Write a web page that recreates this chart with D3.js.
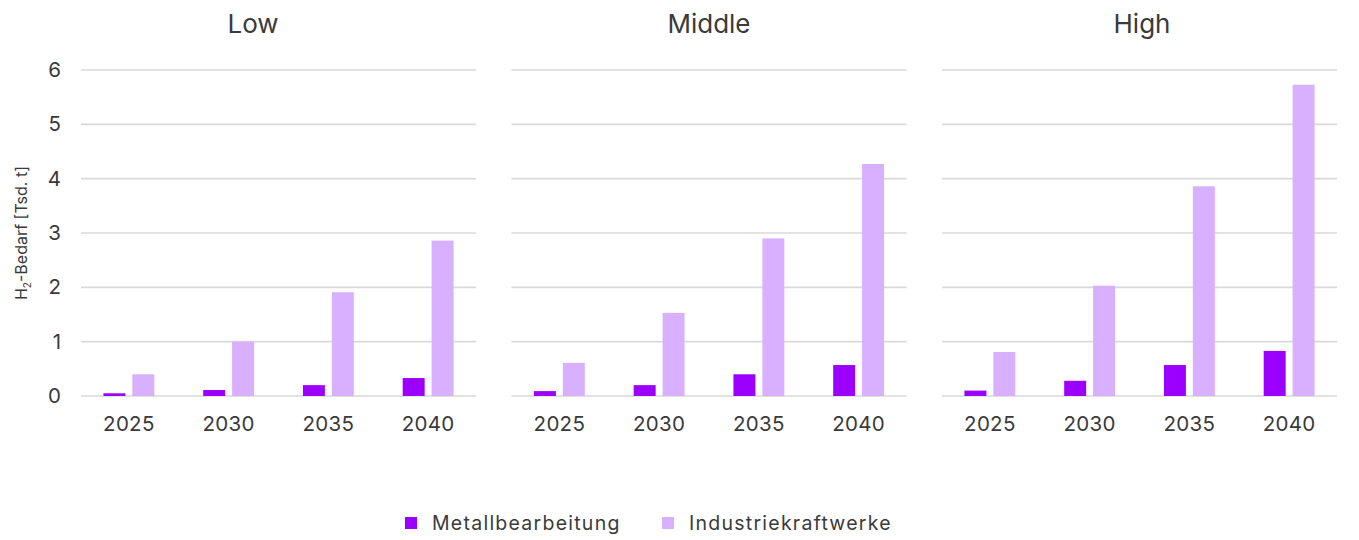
<!DOCTYPE html>
<html>
<head>
<meta charset="utf-8">
<script src="https://cdn.jsdelivr.net/npm/d3@7"></script>
<style>
  html, body { margin: 0; padding: 0; background: #fff; }
  svg text { font-family: Inter, "Noto Sans", sans-serif; fill: #3a3a3a; }
</style>
</head>
<body>
<svg id="chart" width="1359" height="540"></svg>
<script>
// Hydrogen demand (thousand tonnes) by scenario, year and consumer group
const scenarios = ["Low", "Middle", "High"];
const years = ["2025", "2030", "2035", "2040"];
const seriesNames = ["Metallbearbeitung", "Industriekraftwerke"];
const seriesColors = ["#9b00ff", "#d9b0ff"];

const metallLow = [0.05, 0.11, 0.2, 0.33];
const industrieLow = [0.4, 1.0, 1.91, 2.86];
const metallMiddle = [0.09, 0.2, 0.4, 0.57];
const industrieMiddle = [0.61, 1.53, 2.9, 4.27];
const metallHigh = [0.1, 0.28, 0.57, 0.83];
const industrieHigh = [0.81, 2.03, 3.86, 5.73];

const yTicks = [0, 1, 2, 3, 4, 5, 6];

const scenarioData = [
  [metallLow, industrieLow],
  [metallMiddle, industrieMiddle],
  [metallHigh, industrieHigh]
];

const svg = d3.select("#chart");

// plot extents of the three small multiples
const panels = [
  { x0: 79, x1: 478, titleX: 253 },
  { x0: 509.5, x1: 908.5, titleX: 709 },
  { x0: 940, x1: 1339, titleX: 1142 }
];

const y = d3.scaleLinear().domain([0, 6]).range([396, 70]);

scenarios.forEach((name, i) => {
  const p = panels[i];
  const g = svg.append("g");

  const x0 = d3.scaleBand().domain(years).range([p.x0, p.x1])
    .paddingInner(0.49).paddingOuter(0.245);
  const x1 = d3.scaleBand().domain(seriesNames).range([0, x0.bandwidth()])
    .paddingInner(0.24).paddingOuter(0);

  // horizontal grid
  g.append("g").selectAll("line").data(yTicks).join("line")
    .attr("x1", p.x0 + 2).attr("x2", p.x1 - 2)
    .attr("y1", d => y(d)).attr("y2", d => y(d))
    .attr("stroke", "#d9d9d9").attr("stroke-width", 1.6);

  // bars
  const rows = [];
  years.forEach((yr, k) => {
    seriesNames.forEach((s, j) => rows.push({ year: yr, series: s, j, value: scenarioData[i][j][k] }));
  });
  g.append("g").selectAll("rect").data(rows).join("rect")
    .attr("x", d => x0(d.year) + x1(d.series))
    .attr("width", x1.bandwidth())
    .attr("y", d => y(d.value))
    .attr("height", d => y(0) - y(d.value))
    .attr("fill", d => seriesColors[d.j]);

  // category axis
  const xAxis = g.append("g").attr("transform", `translate(0,${y(0)})`)
    .call(d3.axisBottom(x0).tickSize(0).tickPadding(20));
  xAxis.select(".domain").remove();
  xAxis.selectAll("text").style("font-size", "20.5px").style("letter-spacing", "0.3px").attr("fill", "#3a3a3a");

  // panel title
  g.append("text").attr("x", p.titleX).attr("y", 33)
    .attr("text-anchor", "middle").style("font-size", "26px")
    .text(name);
});

// value axis (left of first panel)
const yAxis = svg.append("g").attr("transform", "translate(61,0)")
  .call(d3.axisLeft(y).tickValues(yTicks).tickSize(0).tickPadding(0).tickFormat(d3.format("d")));
yAxis.select(".domain").remove();
yAxis.selectAll("text").style("font-size", "20.5px").attr("fill", "#3a3a3a");

// axis title
const yt = svg.append("text")
  .attr("transform", `translate(27,${(y(0) + y(6)) / 2}) rotate(-90)`)
  .attr("text-anchor", "middle").style("font-size", "16px");
yt.append("tspan").text("H");
yt.append("tspan").attr("dy", 4).style("font-size", "10px").text("2");
yt.append("tspan").attr("dy", -4).text("-Bedarf [Tsd. t]");

// legend
const legendItems = [{ x: 405 }, { x: 662 }];
const legend = svg.append("g").selectAll("g").data(seriesNames).join("g")
  .attr("transform", (d, i) => `translate(${legendItems[i].x},517)`);
legend.append("rect").attr("width", 12).attr("height", 12)
  .attr("fill", (d, i) => seriesColors[i]);
legend.append("text").attr("x", 27).attr("y", 12.5)
  .style("font-size", "19.5px").style("letter-spacing", "1.25px")
  .text(d => d);
</script>
</body>
</html>
